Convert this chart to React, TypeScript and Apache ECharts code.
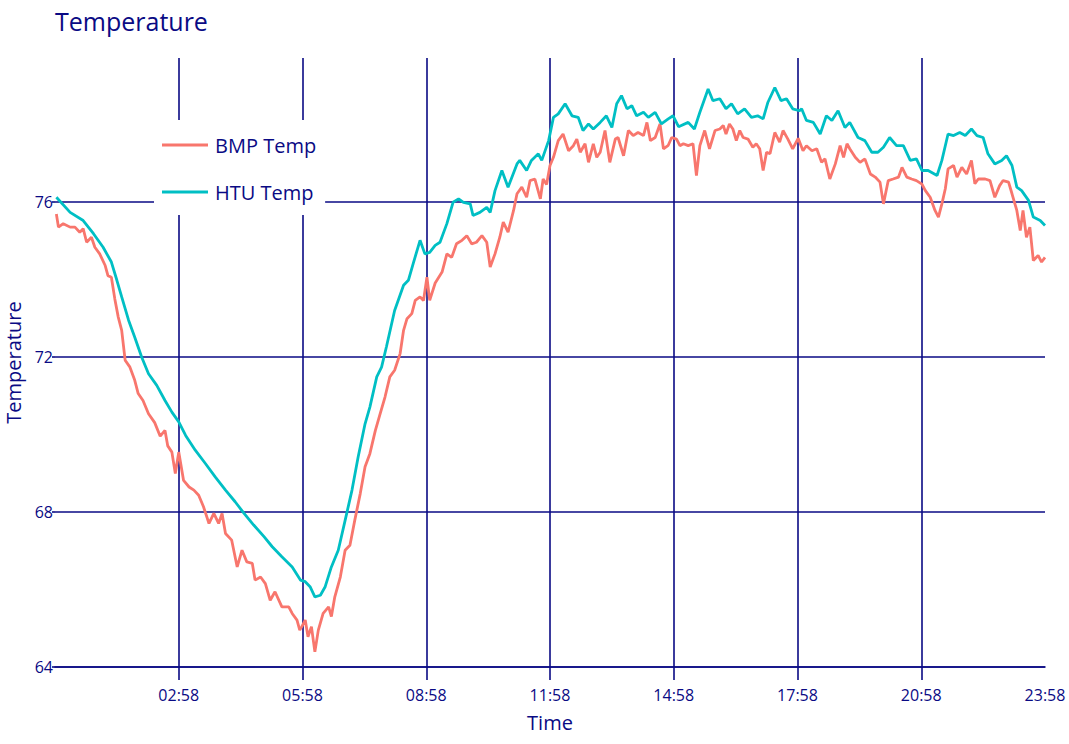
import React, { useEffect, useRef } from "react";
import * as echarts from "echarts";

const HTU_TIMES = [
  "00:00","00:20","00:39","00:54","01:08","01:20","01:28","01:35","01:45","01:54",
  "02:04","02:14","02:26","02:38","02:48","02:58","03:08","03:22","03:37","03:51",
  "04:06","04:20","04:33","04:47","05:02","05:14","05:28","05:43","05:55","06:02",
  "06:09","06:16","06:24","06:31","06:40","06:50","07:00","07:10","07:19","07:29",
  "07:36","07:46","07:53","08:00","08:12","08:25","08:32","08:39","08:49","08:56",
  "09:03","09:11","09:18","09:28","09:37","09:45","09:52","10:02","10:06","10:16",
  "10:26","10:31","10:38","10:48","10:57","11:10","11:14","11:24","11:31","11:41",
  "11:46","11:56","12:03","12:10","12:20","12:30","12:39","12:46","12:54","13:01",
  "13:11","13:20","13:28","13:35","13:42","13:50","13:57","14:04","14:14","14:21",
  "14:31","14:40","14:50","14:57","15:05","15:19","15:28","15:36","15:48","15:55",
  "16:05","16:14","16:22","16:31","16:41","16:51","17:00","17:08","17:15","17:25",
  "17:34","17:42","17:51","18:01","18:04","18:11","18:21","18:31","18:40","18:48",
  "18:57","19:07","19:14","19:26","19:36","19:46","19:55","20:03","20:12","20:22",
  "20:32","20:42","20:51","20:59","21:08","21:21","21:28","21:37","21:45","21:54",
  "22:02","22:11","22:19","22:28","22:35","22:45","22:55","23:02","23:10","23:17",
  "23:24","23:34","23:41","23:51","23:58",
];
const HTU_VALUES = [
  76.11,75.72,75.51,75.17,74.82,74.44,73.97,73.54,72.94,72.50,
  71.99,71.56,71.26,70.87,70.57,70.32,69.97,69.59,69.24,68.90,
  68.56,68.26,67.96,67.66,67.36,67.10,66.84,66.58,66.24,66.20,
  66.07,65.81,65.85,66.07,66.58,67.01,67.78,68.56,69.42,70.27,
  70.70,71.48,71.73,72.25,73.19,73.84,73.97,74.40,75.00,74.65,
  74.69,74.87,74.95,75.43,75.98,76.07,75.98,75.94,75.64,75.72,
  75.85,75.72,76.28,76.80,76.37,76.97,77.06,76.80,77.06,77.23,
  77.06,77.57,78.17,78.26,78.52,78.21,78.17,77.83,78.00,77.87,
  78.04,78.21,77.91,78.52,78.73,78.39,78.47,78.21,78.30,78.17,
  78.30,78.00,78.13,78.21,77.93,78.04,77.87,78.30,78.90,78.60,
  78.65,78.39,78.52,78.26,78.39,78.17,78.21,78.13,78.56,78.94,
  78.60,78.65,78.39,78.34,78.39,78.09,78.04,77.74,78.21,78.09,
  78.34,77.91,78.04,77.65,77.57,77.27,77.27,77.40,77.65,77.44,
  77.44,77.06,77.10,76.80,76.80,76.67,77.06,77.74,77.70,77.78,
  77.70,77.87,77.70,77.65,77.23,76.97,77.06,77.18,76.93,76.37,
  76.28,76.03,75.60,75.51,75.38,
];

const BMP_TIMES = [
  "00:00","00:03","00:10","00:20","00:27","00:34","00:39","00:44","00:51","00:56",
  "01:03","01:11","01:15","01:20","01:25","01:30","01:35","01:40","01:47","01:54",
  "01:59","02:06","02:14","02:23","02:31","02:38","02:42","02:48","02:53","02:58",
  "03:05","03:13","03:20","03:27","03:34","03:42","03:49","03:56","04:01","04:06",
  "04:15","04:23","04:30","04:37","04:45","04:49","04:57","05:04","05:11","05:18",
  "05:28","05:38","05:43","05:50","05:54","05:57","06:02","06:06","06:11","06:16",
  "06:21","06:28","06:36","06:40","06:45","06:53","07:00","07:07","07:14","07:22",
  "07:29","07:36","07:44","07:51","07:58","08:05","08:12","08:20","08:25","08:30",
  "08:37","08:42","08:49","08:54","08:59","09:03","09:11","09:21","09:28","09:35",
  "09:42","09:50","09:57","10:04","10:11","10:19","10:26","10:31","10:38","10:45",
  "10:50","10:57","11:05","11:10","11:17","11:24","11:29","11:36","11:44","11:48",
  "11:53","11:58","12:03","12:10","12:17","12:25","12:32","12:37","12:42","12:49",
  "12:54","13:01","13:06","13:11","13:18","13:25","13:33","13:37","13:45","13:52",
  "13:59","14:06","14:14","14:19","14:24","14:31","14:38","14:43","14:50","14:55",
  "15:02","15:07","15:12","15:19","15:26","15:31","15:36","15:43","15:50","15:58",
  "16:05","16:10","16:14","16:19","16:24","16:29","16:34","16:39","16:46","16:53",
  "16:58","17:03","17:08","17:13","17:18","17:25","17:32","17:37","17:44","17:51",
  "17:59","18:06","18:11","18:19","18:26","18:33","18:38","18:45","18:53","19:00",
  "19:05","19:10","19:14","19:22","19:29","19:36","19:44","19:51","19:58","20:03",
  "20:10","20:17","20:25","20:30","20:37","20:44","20:51","20:59","21:04","21:11",
  "21:18","21:23","21:28","21:33","21:37","21:45","21:50","21:57","22:04","22:11",
  "22:16","22:21","22:31","22:38","22:45","22:52","22:57","23:05","23:10","23:17",
  "23:22","23:26","23:31","23:36","23:41","23:48","23:53","23:58",
];
const BMP_VALUES = [
  75.68,75.34,75.43,75.34,75.34,75.21,75.30,74.95,75.08,74.82,
  74.65,74.35,74.09,74.05,73.49,73.02,72.68,71.91,71.73,71.39,
  71.05,70.87,70.53,70.30,69.95,70.10,69.70,69.54,68.99,69.54,
  68.81,68.64,68.56,68.43,68.13,67.70,67.96,67.70,67.96,67.44,
  67.27,66.58,67.01,66.71,66.67,66.24,66.32,66.15,65.72,65.94,
  65.55,65.55,65.38,65.21,64.95,65.04,65.21,64.78,65.04,64.39,
  64.95,65.38,65.55,65.30,65.81,66.32,67.01,67.14,67.78,68.47,
  69.16,69.50,70.10,70.53,70.96,71.48,71.65,72.08,72.68,72.98,
  73.11,73.45,73.54,73.45,74.05,73.45,73.90,74.18,74.65,74.56,
  74.91,75.00,75.12,74.91,74.95,75.12,74.95,74.31,74.65,75.08,
  75.47,75.21,75.77,76.20,76.37,76.11,76.54,76.58,76.07,76.58,
  76.44,76.93,77.14,77.57,77.74,77.31,77.44,77.61,77.27,77.49,
  77.01,77.49,77.14,77.27,77.83,77.01,77.61,77.65,77.18,77.83,
  77.70,77.78,77.70,78.04,77.57,77.65,78.00,77.36,77.45,77.65,
  77.61,77.44,77.49,77.44,77.49,76.67,77.44,77.83,77.36,77.83,
  77.87,77.96,77.74,78.00,77.87,77.57,77.83,77.65,77.61,77.40,
  77.49,77.36,76.80,77.27,77.23,77.78,77.53,77.83,77.61,77.36,
  77.63,77.31,77.44,77.31,77.36,77.01,77.10,76.58,76.97,77.44,
  77.14,77.49,77.36,77.14,77.01,77.10,76.71,76.63,76.50,75.94,
  76.54,76.58,76.63,76.88,76.63,76.58,76.54,76.45,76.28,76.11,
  75.77,75.60,75.94,76.33,76.84,76.93,76.63,76.88,76.71,77.06,
  76.46,76.58,76.58,76.54,76.11,76.41,76.54,76.50,76.20,75.77,
  75.25,75.77,75.08,75.34,74.48,74.61,74.44,74.56,
];

const X_TICK_LABELS = ["02:58", "05:58", "08:58", "11:58", "14:58", "17:58", "20:58", "23:58"];
const Y_TICKS = [64, 68, 72, 76];

// x axis position = minutes since 23:58 of the previous day
const toX = (t: string) => {
  const [h, m] = t.split(":").map(Number);
  return h * 60 + m + 2;
};
const fmt = (v: number) => {
  const m = (((Math.round(v) - 2) % 1440) + 1440) % 1440;
  const hh = String(Math.floor(m / 60)).padStart(2, "0");
  const mm = String(m % 60).padStart(2, "0");
  return `${hh}:${mm}`;
};

const NAVY = "#0a0a84";
const FONT = "Open Sans";

export default function App() {
  const ref = useRef<HTMLDivElement>(null);
  useEffect(() => {
    if (!ref.current) return;
    const chart = echarts.init(ref.current, undefined, { renderer: "svg" });
    const xTickVals = X_TICK_LABELS.slice(0, -1).map(toX);
    const lineStyle = { color: NAVY, width: 1.6 };
    chart.setOption({
      animation: false,
      textStyle: { fontFamily: FONT },
      title: {
        text: "Temperature",
        left: 50,
        top: 3,
        textStyle: { color: NAVY, fontSize: 25, fontWeight: "normal", fontFamily: FONT },
      },
      legend: {
        orient: "vertical",
        left: 154,
        top: 120,
        backgroundColor: "#ffffff",
        padding: [15, 9, 13, 8],
        itemGap: 27,
        itemWidth: 46,
        itemHeight: 3,
        icon: "rect",
        textStyle: { color: NAVY, fontSize: 20, fontFamily: FONT, padding: [0, 0, 0, 2] },
        data: ["BMP Temp", "HTU Temp"],
      },
      grid: { left: 55, right: 24, top: 58, bottom: 77, outerBoundsMode: "none", containLabel: false },
      xAxis: {
        type: "value",
        min: 0,
        max: 1440,
        interval: 180,
        name: "Time",
        nameLocation: "middle",
        nameGap: 45,
        nameTextStyle: { color: NAVY, fontSize: 20, fontFamily: FONT },
        axisLine: { show: true, lineStyle },
        axisTick: { show: true, length: 13, lineStyle, customValues: xTickVals },
        axisLabel: {
          color: NAVY,
          fontSize: 16,
          fontFamily: FONT,
          margin: 20,
          showMinLabel: false,
          formatter: (v: number) => fmt(v),
        },
        splitLine: { show: true, lineStyle },
      },
      yAxis: {
        type: "value",
        min: 64,
        max: 79.7,
        interval: 4,
        name: "Temperature",
        nameLocation: "middle",
        nameGap: 29,
        nameTextStyle: { color: NAVY, fontSize: 20, fontFamily: FONT },
        axisLine: { show: false },
        axisTick: { show: true, length: 3, lineStyle, customValues: Y_TICKS },
        axisLabel: {
          color: NAVY,
          fontSize: 16,
          fontFamily: FONT,
          margin: 2,
          showMaxLabel: false,
        },
        splitLine: { show: true, lineStyle },
      },
      series: [
        {
          name: "BMP Temp",
          type: "line",
          symbol: "none",
          lineStyle: { color: "#F8766D", width: 2.8 },
          itemStyle: { color: "#F8766D" },
          data: BMP_TIMES.map((t, i) => [toX(t), BMP_VALUES[i]]),
        },
        {
          name: "HTU Temp",
          type: "line",
          symbol: "none",
          lineStyle: { color: "#00BFC4", width: 2.8 },
          itemStyle: { color: "#00BFC4" },
          data: HTU_TIMES.map((t, i) => [toX(t), HTU_VALUES[i]]),
        },
      ],
    });
    return () => chart.dispose();
  }, []);
  return (
    <div
      ref={ref}
      style={{ position: "absolute", left: 0, top: 0, width: 1069, height: 744, background: "#fff" }}
    />
  );
}
